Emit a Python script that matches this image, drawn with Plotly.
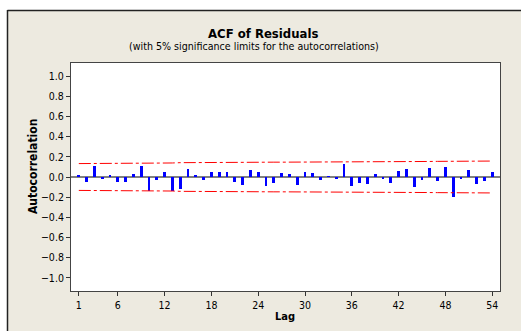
import plotly.graph_objects as go

lags = list(range(1, 55))
acf = [0.02, -0.05, 0.105, -0.015, 0.015, -0.05, -0.05, 0.025, 0.11, -0.14,
       -0.025, 0.05, -0.14, -0.115, 0.08, 0.01, -0.025, 0.045, 0.045, 0.045,
       -0.05, -0.08, 0.065, 0.045, -0.09, -0.06, 0.04, 0.027, -0.075, 0.045,
       0.035, -0.025, 0.005, -0.015, 0.125, -0.085, -0.06, -0.07, 0.025, -0.02,
       -0.06, 0.06, 0.08, -0.1, -0.03, 0.085, -0.04, 0.095, -0.2, -0.015,
       0.065, -0.065, -0.04, 0.045]
limit = [0.133, 0.133, 0.133, 0.134, 0.134, 0.134, 0.135, 0.135, 0.135, 0.136,
         0.139, 0.139, 0.139, 0.142, 0.143, 0.144, 0.144, 0.144, 0.144, 0.145,
         0.145, 0.145, 0.146, 0.146, 0.146, 0.147, 0.147, 0.147, 0.147, 0.148,
         0.148, 0.148, 0.148, 0.148, 0.148, 0.150, 0.151, 0.151, 0.152, 0.152,
         0.152, 0.152, 0.153, 0.153, 0.154, 0.154, 0.155, 0.155, 0.155, 0.158,
         0.158, 0.158, 0.158, 0.158]
lower = [-v for v in limit]
xticks = [1, 6, 12, 18, 24, 30, 36, 42, 48, 54]
yticks = [-1.0, -0.8, -0.6, -0.4, -0.2, 0.0, 0.2, 0.4, 0.6, 0.8, 1.0]

FONT = "DejaVu Sans Condensed, DejaVu Sans, sans-serif"
BG = "#EDEAE0"

# pixel geometry of the plot area
L, R, T, B = 71, 500, 63, 291
W, H = R - L, B - T
def px(x): return (x - L) / W
def py(y): return (B - y) / H

fig = go.Figure()
fig.add_trace(go.Scatter(x=lags, y=limit, mode="lines",
                         line=dict(color="#FF0000", width=1, dash="12px,3px,3px,3px"),
                         hoverinfo="skip"))
fig.add_trace(go.Scatter(x=lags, y=lower, mode="lines",
                         line=dict(color="#FF0000", width=1, dash="12px,3px,3px,3px"),
                         hoverinfo="skip"))
fig.add_trace(go.Bar(x=lags, y=acf, width=0.36, marker=dict(color="#0000FF", line=dict(width=0))))

shapes = [
    dict(type="rect", xref="paper", yref="paper", x0=-0.3, x1=px(7), y0=-0.5, y1=1.6,
         fillcolor="white", line=dict(width=0), layer="below"),
    dict(type="rect", xref="paper", yref="paper", x0=-0.3, x1=1.3, y0=py(10), y1=1.6,
         fillcolor="white", line=dict(width=0), layer="below"),
    dict(type="line", xref="paper", yref="paper", x0=px(7.5), x1=px(7.5), y0=-0.5, y1=py(10),
         line=dict(color="#222222", width=1.5)),
    dict(type="line", xref="paper", yref="paper", x0=px(7.5), x1=1.3, y0=py(10.5), y1=py(10.5),
         line=dict(color="#222222", width=1.5)),
]

annotations = [
    dict(text="<b>ACF of Residuals</b>", x=px(263), y=py(34), xref="paper", yref="paper",
         showarrow=False, font=dict(family=FONT, size=13, color="black"),
         xanchor="center", yanchor="middle"),
    dict(text="(with 5% significance limits for the autocorrelations)", x=px(254), y=py(46.5),
         xref="paper", yref="paper", showarrow=False,
         font=dict(family=FONT, size=10.6, color="black"), xanchor="center", yanchor="middle"),
    dict(text="<b>Autocorrelation</b>", x=px(33), y=py(167), xref="paper", yref="paper",
         showarrow=False, textangle=-90, font=dict(family=FONT, size=12, color="black"),
         xanchor="center", yanchor="middle"),
    dict(text="<b>Lag</b>", x=px(284.5), y=py(316), xref="paper", yref="paper",
         showarrow=False, font=dict(family=FONT, size=11, color="black"),
         xanchor="center", yanchor="middle"),
]

fig.update_layout(
    width=521, height=331, autosize=False,
    margin=dict(l=L, r=521 - R, t=T, b=331 - B, pad=0),
    paper_bgcolor=BG, plot_bgcolor="white",
    showlegend=False, bargap=0,
    shapes=shapes, annotations=annotations,
    font=dict(family=FONT, size=10, color="black"),
)
fig.update_xaxes(range=[0, 55], tickvals=xticks, ticks="outside", ticklen=4,
                 tickcolor="#333333", showgrid=False, zeroline=False,
                 showline=True, mirror=True, linecolor="#444444", linewidth=1,
                 tickfont=dict(family=FONT, size=10.5, color="black"))
fig.update_yaxes(range=[-1.13, 1.13], tickvals=yticks, tickformat=".1f", ticks="outside",
                 ticklen=4, tickcolor="#333333", showgrid=False,
                 zeroline=True, zerolinecolor="#808080", zerolinewidth=2,
                 showline=True, mirror=True, linecolor="#444444", linewidth=1,
                 tickfont=dict(family=FONT, size=10.5, color="black"))

fig.write_html("out.html")
